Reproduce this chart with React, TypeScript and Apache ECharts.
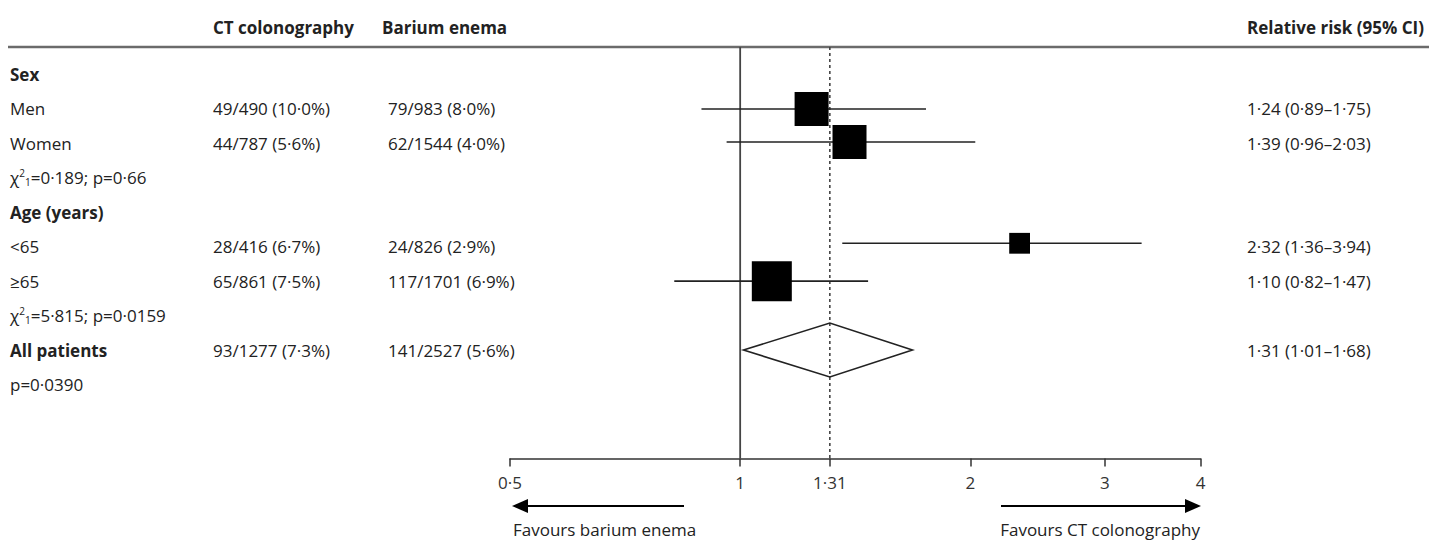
import React, { useEffect, useRef } from "react";
import * as echarts from "echarts";

// ---------- data ----------
const rowLabels = [
  "Sex",
  "Men",
  "Women",
  "χ²₁=0·189; p=0·66",
  "Age (years)",
  "<65",
  "≥65",
  "χ²₁=5·815; p=0·0159",
  "All patients",
  "p=0·0390",
];
const headingRows = [0, 4, 8];
const ctColumn = ["", "49/490 (10·0%)", "44/787 (5·6%)", "", "", "28/416 (6·7%)", "65/861 (7·5%)", "", "93/1277 (7·3%)", ""];
const beColumn = ["", "79/983 (8·0%)", "62/1544 (4·0%)", "", "", "24/826 (2·9%)", "117/1701 (6·9%)", "", "141/2527 (5·6%)", ""];
const rrColumn = ["", "1·24 (0·89–1·75)", "1·39 (0·96–2·03)", "", "", "2·32 (1·36–3·94)", "1·10 (0·82–1·47)", "", "1·31 (1·01–1·68)", ""];
const headers = ["CT colonography", "Barium enema", "Relative risk (95% CI)"];

// subgroup estimates (as plotted)
const subgroupRows = [1, 1.96, 4.9, 6];
const subgroupEst = [1.24, 1.39, 2.32, 1.1];
const subgroupLow = [0.89, 0.96, 1.36, 0.82];
const subgroupHigh = [1.75, 2.03, 3.35, 1.47];
const subgroupWeight = [0.85, 0.85, 0.52, 1.0];

// overall
const overallRow = 8;
const overallEst = 1.31;
const overallLow = 1.01;
const overallHigh = 1.68;

const refValues = [1, 1.31];
const tickValues = [0.5, 1, 1.31, 2, 3, 4];
const tickLabels = ["0·5", "1", "1·31", "2", "3", "4"];

const favourLeft = "Favours barium enema";
const favourRight = "Favours CT colonography";

// ---------- style ----------
const FONT = "'Open Sans', 'Noto Sans', sans-serif";
const FS = 17;
const TXT = "#222";
const BOX_MAX = 40;
const L2 = (v: number) => Math.log2(v);

export default function App() {
  const ref = useRef<HTMLDivElement>(null);

  useEffect(() => {
    if (!ref.current) return;
    const chart = echarts.init(ref.current, undefined, { renderer: "svg" });

    const tickLogs = tickValues.map(L2);
    const fmt = (v: number) => {
      const i = tickLogs.findIndex((t) => Math.abs(t - v) < 1e-6);
      return i >= 0 ? tickLabels[i] : "";
    };

    const richText = (s: string) => s.replace("²", "{sup|2}").replace("₁", "{sub|1}");

    const colX = { label: 10, ct: 213, be: 388, rr: 1247 };

    const option: any = {
      animation: false,
      grid: { left: 510, width: 690.5, top: 47, height: 411.5, containLabel: false },
      xAxis: {
        type: "value",
        min: -1,
        max: 2,
        axisLine: { show: true, onZero: false, lineStyle: { color: "#333", width: 1.5 } },
        axisTick: { show: true, customValues: tickLogs, length: 8, lineStyle: { color: "#333", width: 1.5 } },
        axisLabel: { customValues: tickLogs, formatter: fmt, margin: 15, fontSize: FS, fontFamily: FONT, color: "#333" },
        splitLine: { show: false },
      },
      yAxis: { type: "value", min: -0.8, max: 11.15, inverse: true, show: false },
      graphic: [
        { type: "line", shape: { x1: 8, y1: 47, x2: 1429, y2: 47 }, style: { stroke: "#6b6b6b", lineWidth: 2.5 } },
        { type: "text", x: colX.ct, y: 27, style: { text: headers[0], font: `bold ${FS}px ${FONT}`, fill: TXT, verticalAlign: "middle" } },
        { type: "text", x: 382, y: 27, style: { text: headers[1], font: `bold ${FS}px ${FONT}`, fill: TXT, verticalAlign: "middle" } },
        { type: "text", x: colX.rr, y: 27, style: { text: headers[2], font: `bold ${FS}px ${FONT}`, fill: TXT, verticalAlign: "middle" } },
        { type: "line", shape: { x1: 528, y1: 506, x2: 684, y2: 506 }, style: { stroke: "#000", lineWidth: 2 } },
        { type: "polygon", shape: { points: [[512, 506], [528, 499], [528, 513]] }, style: { fill: "#000" } },
        { type: "line", shape: { x1: 1001, y1: 506, x2: 1186, y2: 506 }, style: { stroke: "#000", lineWidth: 2 } },
        { type: "polygon", shape: { points: [[1201, 506], [1185, 499], [1185, 513]] }, style: { fill: "#000" } },
        { type: "text", x: 513, y: 529, style: { text: favourLeft, font: `${FS}px ${FONT}`, fill: TXT, verticalAlign: "middle" } },
        { type: "text", x: 1200, y: 529, style: { text: favourRight, font: `${FS}px ${FONT}`, fill: TXT, verticalAlign: "middle", align: "right" } },
      ],
      series: [
        {
          type: "custom",
          name: "refs",
          z: 1,
          silent: true,
          data: refValues.map((v) => [L2(v)]),
          encode: { x: 0 },
          renderItem: (params: any, api: any) => {
            const cs = params.coordSys;
            const x = api.coord([api.value(0), 0])[0];
            const dashed = params.dataIndex === 1;
            return {
              type: "line",
              shape: { x1: x, y1: cs.y, x2: x, y2: cs.y + cs.height },
              style: dashed
                ? { stroke: "#444", lineWidth: 1.6, lineDash: [3, 3] }
                : { stroke: "#444", lineWidth: 1.8 },
            };
          },
        },
        {
          type: "custom",
          name: "table",
          z: 2,
          silent: true,
          data: rowLabels.map((_, i) => [0, i]),
          encode: { x: 0, y: 1 },
          renderItem: (params: any, api: any) => {
            const i = params.dataIndex;
            const y = api.coord([0, api.value(1)])[1];
            const bold = headingRows.indexOf(i) >= 0;
            const base = {
              fontFamily: FONT,
              fontSize: FS,
              fill: TXT,
              verticalAlign: "middle",
              align: "left",
            };
            const children: any[] = [
              {
                type: "text",
                x: colX.label,
                y,
                style: {
                  ...base,
                  fontWeight: bold ? "bold" : "normal",
                  text: richText(rowLabels[i]),
                  rich: {
                    sup: { fontSize: 10, fontFamily: FONT, fill: TXT, padding: [0, 0, 9, 0] },
                    sub: { fontSize: 10, fontFamily: FONT, fill: TXT, padding: [8, 0, 0, 0] },
                  },
                },
              },
            ];
            if (ctColumn[i]) children.push({ type: "text", x: colX.ct, y, style: { ...base, text: ctColumn[i] } });
            if (beColumn[i]) children.push({ type: "text", x: colX.be, y, style: { ...base, text: beColumn[i] } });
            if (rrColumn[i]) children.push({ type: "text", x: colX.rr, y, style: { ...base, text: rrColumn[i] } });
            return { type: "group", children };
          },
        },
        {
          type: "custom",
          name: "subgroups",
          z: 3,
          silent: true,
          data: subgroupRows.map((r, i) => [L2(subgroupEst[i]), L2(subgroupLow[i]), L2(subgroupHigh[i]), r, subgroupWeight[i]]),
          encode: { x: [0, 1, 2], y: 3 },
          renderItem: (params: any, api: any) => {
            const y = api.coord([0, api.value(3)])[1];
            const xe = api.coord([api.value(0), 0])[0];
            const xl = api.coord([api.value(1), 0])[0];
            const xh = api.coord([api.value(2), 0])[0];
            const s = api.value(4) * BOX_MAX;
            return {
              type: "group",
              children: [
                { type: "line", shape: { x1: xl, y1: y, x2: xh, y2: y }, style: { stroke: "#222", lineWidth: 1.6 } },
                { type: "rect", shape: { x: xe - s / 2, y: y - s / 2, width: s, height: s }, style: { fill: "#000" } },
              ],
            };
          },
        },
        {
          type: "custom",
          name: "overall",
          z: 3,
          silent: true,
          data: [[L2(overallEst), L2(overallLow), L2(overallHigh), overallRow]],
          encode: { x: [0, 1, 2], y: 3 },
          renderItem: (params: any, api: any) => {
            const y = api.coord([0, api.value(3)])[1];
            const xe = api.coord([api.value(0), 0])[0];
            const xl = api.coord([api.value(1), 0])[0];
            const xh = api.coord([api.value(2), 0])[0];
            const h = 27;
            return {
              type: "polygon",
              shape: { points: [[xl, y], [xe, y - h], [xh, y], [xe, y + h]] },
              style: { fill: "none", stroke: "#222", lineWidth: 1.6 },
            };
          },
        },
      ],
    };

    chart.setOption(option);
    return () => chart.dispose();
  }, []);

  return (
    <div
      ref={ref}
      style={{ position: "fixed", left: 0, top: 0, width: 1429, height: 542, background: "#fff" }}
    />
  );
}
